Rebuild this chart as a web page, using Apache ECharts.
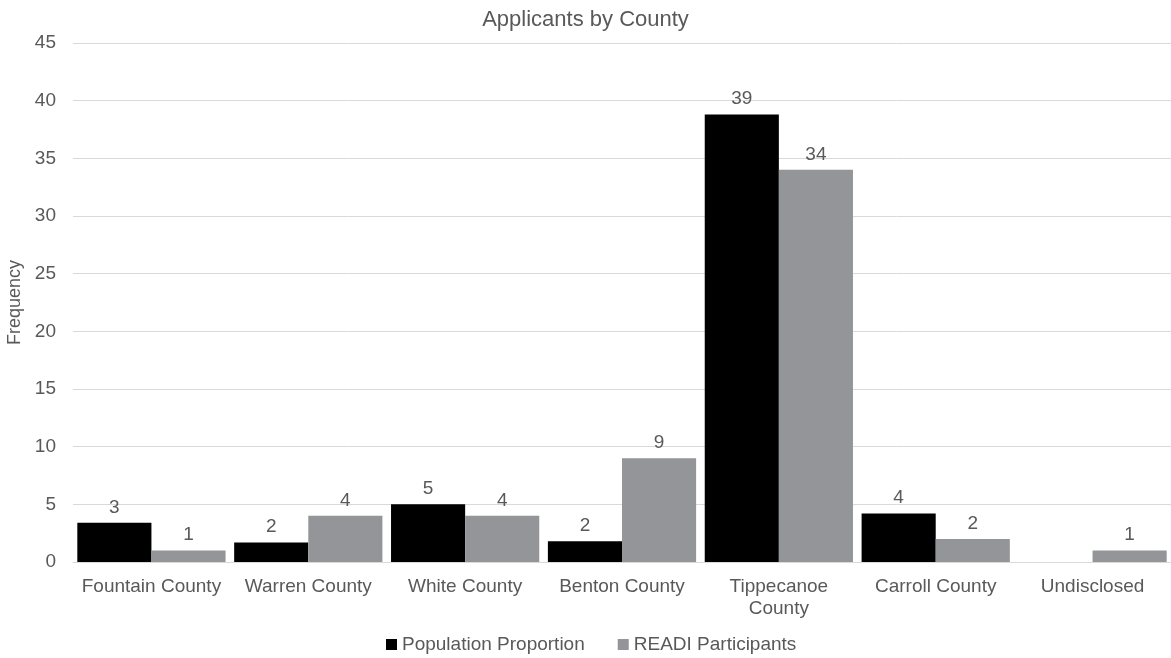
<!DOCTYPE html>
<html>
<head>
<meta charset="utf-8">
<script src="https://cdn.jsdelivr.net/npm/echarts@6/dist/echarts.min.js"></script>
<style>
  html, body { margin: 0; padding: 0; background: #fff; }
  #chart { width: 1171px; height: 658px; }
</style>
</head>
<body>
<div id="chart"></div>
<script>
// Applicants by county: population proportion vs. READI participants
const categories = ['Fountain County', 'Warren County', 'White County', 'Benton County', 'Tippecanoe County', 'Carroll County', 'Undisclosed'];
const populationProportion = [3.4, 1.7, 5.0, 1.8, 38.8, 4.2, 0];
const readiParticipants = [1, 4, 4, 9, 34, 2, 1];
const yTicks = { min: 0, max: 45, interval: 5 };

const FONT = '"Liberation Sans", Arial, sans-serif';
const TEXT = '#595959';

const chart = echarts.init(document.getElementById('chart'), null, { renderer: 'canvas' });

const valueLabel = {
  show: true,
  position: 'top',
  distance: 6,
  color: TEXT,
  fontFamily: FONT,
  fontSize: 19,
  formatter: p => (p.value > 0 ? Math.round(p.value) : '')
};

chart.setOption({
  animation: false,
  backgroundColor: '#fff',
  title: {
    text: 'Applicants by County',
    left: 'center',
    top: 4,
    textStyle: { color: TEXT, fontFamily: FONT, fontSize: 22, fontWeight: 'normal' }
  },
  legend: {
    bottom: -1,
    left: 381,
    itemWidth: 11,
    itemHeight: 11,
    itemGap: 33,
    icon: 'rect',
    textStyle: { color: TEXT, fontFamily: FONT, fontSize: 19 },
    data: ['Population Proportion', 'READI Participants']
  },
  grid: { left: 73, right: 0, top: 43, bottom: 96, outerBoundsMode: 'none', containLabel: false },
  xAxis: {
    type: 'category',
    data: categories,
    axisTick: { show: false },
    axisLine: { lineStyle: { color: '#d9d9d9', width: 1 } },
    axisLabel: {
      color: TEXT,
      fontFamily: FONT,
      fontSize: 19,
      margin: 14,
      lineHeight: 22,
      interval: 0,
      formatter: v => (v.length > 16 ? v.replace(' ', '\n') : v)
    }
  },
  yAxis: {
    type: 'value',
    min: yTicks.min,
    max: yTicks.max,
    interval: yTicks.interval,
    name: 'Frequency',
    nameLocation: 'middle',
    nameGap: 45,
    nameRotate: 90,
    nameTextStyle: { color: TEXT, fontFamily: FONT, fontSize: 18 },
    axisLine: { show: false },
    axisTick: { show: false },
    axisLabel: { color: TEXT, fontFamily: FONT, fontSize: 19, margin: 17 },
    splitLine: { lineStyle: { color: '#d9d9d9', width: 1 } }
  },
  series: [
    {
      name: 'Population Proportion',
      type: 'bar',
      data: populationProportion,
      barGap: '0%',
      barCategoryGap: '5.5%',
      itemStyle: { color: '#000000' },
      label: valueLabel
    },
    {
      name: 'READI Participants',
      type: 'bar',
      data: readiParticipants,
      itemStyle: { color: '#939598' },
      label: valueLabel
    }
  ]
});
</script>
</body>
</html>
